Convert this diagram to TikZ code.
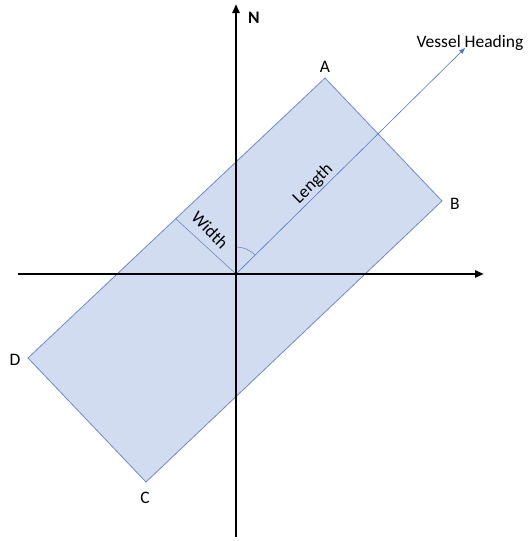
\documentclass[tikz,border=0pt]{standalone}
\usepackage{fontspec}
\setmainfont{Carlito}
\usetikzlibrary{arrows.meta}
\definecolor{boxfill}{RGB}{209,220,240}
\definecolor{boxline}{RGB}{110,138,190}
\definecolor{headblue}{RGB}{80,120,200}
\begin{document}
\begin{tikzpicture}[x=1pt,y=-1pt,
  axis/.style={line width=2.2pt,-{Triangle[length=9pt,width=7pt]}},
  lbl/.style={font=\fontsize{17.5}{20}\selectfont,inner sep=0pt},
  helper/.style={draw=boxline,line width=0.6pt}]
\useasboundingbox (0,0) rectangle (529,541);
\coordinate (O) at (236,274);
\coordinate (A) at (325,78);
\coordinate (B) at (442,201);
\coordinate (C) at (146,482);
\coordinate (D) at (28,358);
\coordinate (W) at (176,219);
\coordinate (H) at (465,48);
\filldraw[fill=boxfill,draw=boxline,line width=0.8pt] (A) -- (B) -- (C) -- (D) -- cycle;
\draw[helper] (W) -- (O);
\draw[draw=headblue,line width=0.6pt,-{Triangle[length=6pt,width=4.5pt]}] (O) -- (H);
\draw[helper] (236,247) arc[start angle=-90,end angle=-44.6,radius=27];
\coordinate (S) at (236,537);
\coordinate (Nn) at (236,4);
\coordinate (L) at (18,274);
\coordinate (R) at (484,274);
\draw[axis] (S) -- (Nn);
\draw[axis] (L) -- (R);
\node[lbl,font=\fontsize{17.5}{20}\selectfont\bfseries] (n) at (254,18) {N};
\node[lbl] (vh) at (470,43) {Vessel Heading};
\node[lbl] (a) at (325,67) {A};
\node[lbl] (b) at (455,204) {B};
\node[lbl] (c) at (145,498) {C};
\node[lbl] (d) at (15,360) {D};
\node[lbl,rotate=44.6] (len) at (313,184) {Length};
\node[lbl,rotate=-45.4] (wid) at (210,230) {Width};
\end{tikzpicture}
\end{document}
